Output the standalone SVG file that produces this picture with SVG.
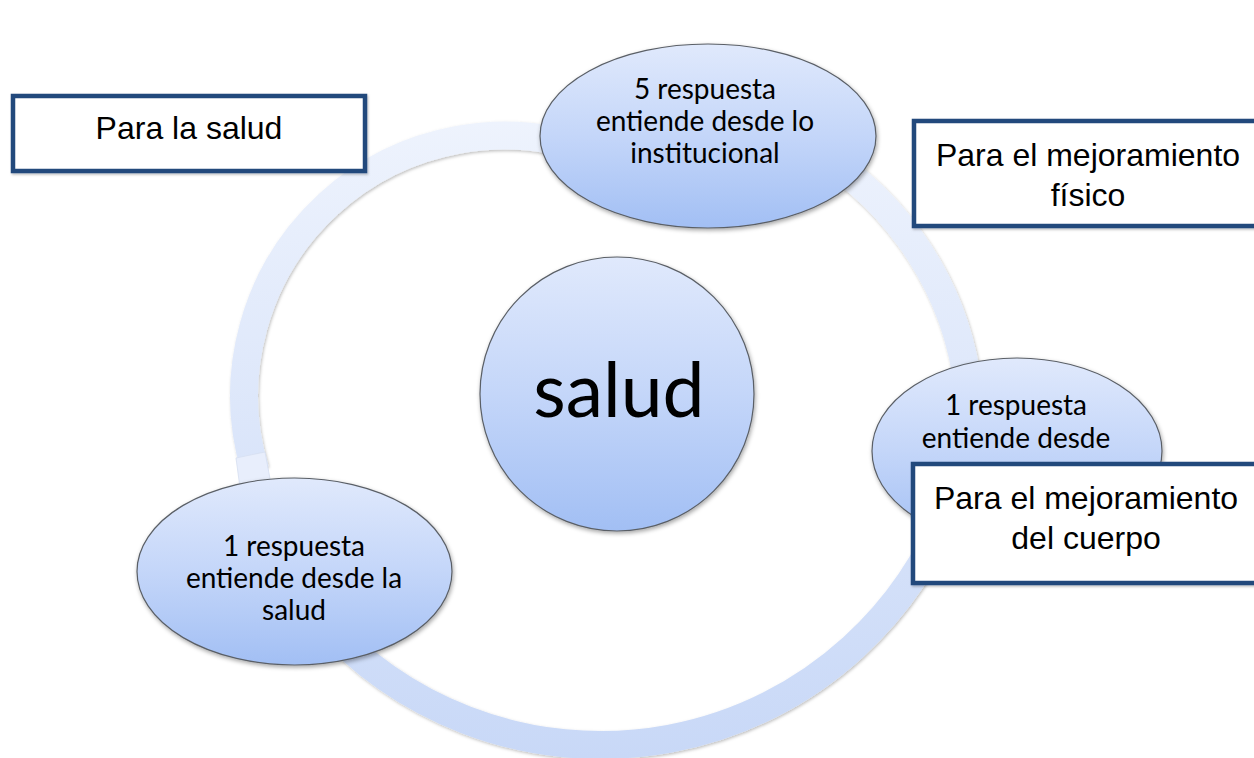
<svg xmlns="http://www.w3.org/2000/svg" width="1254" height="758" viewBox="0 0 1254 758">
<defs>
<linearGradient id="ringGrad" gradientUnits="userSpaceOnUse" x1="0" y1="120" x2="0" y2="760">
<stop offset="0" stop-color="#eef3fd"/>
<stop offset="1" stop-color="#c8d8f7"/>
</linearGradient>
<linearGradient id="nodeGrad" x1="0" y1="0" x2="0" y2="1">
<stop offset="0" stop-color="#e0e9fc"/>
<stop offset="0.5" stop-color="#c4d6f9"/>
<stop offset="1" stop-color="#a2bff4"/>
</linearGradient>
<filter id="sh" x="-10%" y="-10%" width="125%" height="125%">
<feDropShadow dx="1" dy="2" stdDeviation="2" flood-color="#000" flood-opacity="0.35"/>
</filter>
<filter id="shRing" x="-10%" y="-10%" width="125%" height="125%">
<feDropShadow dx="1" dy="1.5" stdDeviation="1.5" flood-color="#000" flood-opacity="0.25"/>
</filter>
<filter id="shBox" x="-5%" y="-5%" width="115%" height="120%">
<feDropShadow dx="1" dy="1.5" stdDeviation="1" flood-color="#000" flood-opacity="0.25"/>
</filter>
</defs>
<style>
.arc{fill:none;stroke:url(#ringGrad);stroke-width:28;filter:url(#shRing);}
.node{fill:url(#nodeGrad);stroke:#5a5f66;stroke-width:1.2;filter:url(#sh);}
.nt{font-family:Lato,"Open Sans","DejaVu Sans",sans-serif;font-size:28px;fill:#000;text-anchor:middle;}
.big{font-family:Lato,"Open Sans","DejaVu Sans",sans-serif;font-size:75px;fill:#000;text-anchor:middle;}
.box{fill:#fff;stroke:#244a7c;stroke-width:4.5;filter:url(#shBox);}
.bt{font-family:"Liberation Sans",Arial,sans-serif;font-size:32px;fill:#000;text-anchor:middle;}
</style>
<rect width="1254" height="758" fill="#fff"/>
<g id="connectors">
<path class="arc" d="M 255 470 A 260 260 0 0 1 600 154"/>
<path class="arc" d="M 800 143 A 320 320 0 0 1 966 372"/>
<path class="arc" d="M 952 500 A 374 374 0 0 1 320 618"/>
<polygon points="236,458 265,452 271,484 240,488" fill="#e8eefc" stroke="#d6def0" stroke-width="0.8"/>
</g>
<g id="center">
<circle class="node" cx="617" cy="394" r="137"/>
<text class="big" x="619" y="417">salud</text>
</g>
<g id="node-top">
<ellipse class="node" cx="708" cy="136" rx="168" ry="92"/>
<text class="nt" x="705" y="99">5 respuesta</text>
<text class="nt" x="705" y="131">entiende desde lo</text>
<text class="nt" x="705" y="163">institucional</text>
</g>
<g id="node-left">
<ellipse class="node" cx="294.5" cy="571.5" rx="157.5" ry="93.5"/>
<text class="nt" x="294" y="556">1 respuesta</text>
<text class="nt" x="294" y="588">entiende desde la</text>
<text class="nt" x="294" y="620">salud</text>
</g>
<g id="node-right">
<ellipse class="node" cx="1017" cy="451" rx="145" ry="93"/>
<text class="nt" x="1016" y="415">1 respuesta</text>
<text class="nt" x="1016" y="448">entiende desde</text>
</g>
<g id="box-salud">
<rect class="box" x="13" y="96" width="352" height="75"/>
<text class="bt" x="189" y="139">Para la salud</text>
</g>
<g id="box-fisico">
<rect class="box" x="914" y="121" width="352" height="105"/>
<text class="bt" x="1088" y="166">Para el mejoramiento</text>
<text class="bt" x="1088" y="206">físico</text>
</g>
<g id="box-cuerpo">
<rect class="box" x="913" y="464" width="352" height="119"/>
<text class="bt" x="1086" y="509">Para el mejoramiento</text>
<text class="bt" x="1086" y="549">del cuerpo</text>
</g>
</svg>
